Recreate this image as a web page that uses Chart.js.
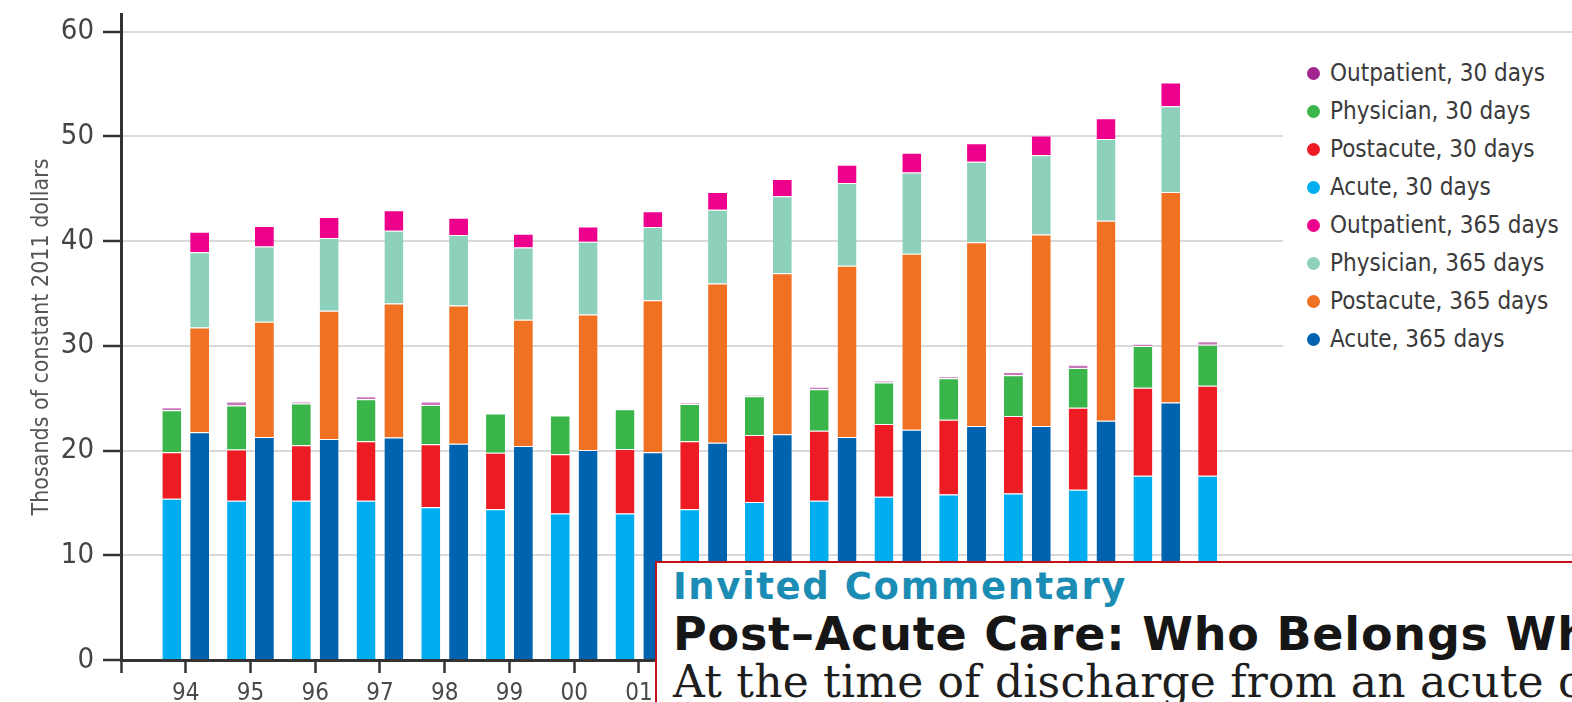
<!DOCTYPE html>
<html>
<head>
<meta charset="utf-8">
<script src="https://cdn.jsdelivr.net/npm/chart.js@4.4.1/dist/chart.umd.min.js"></script>
<style>
  html, body { margin: 0; padding: 0; background: #fff; overflow: hidden; }
  #wrap { position: relative; width: 1572px; height: 702px; overflow: hidden; }
  #chart { position: absolute; left: 0; top: 0; }
  #legend {
    position: absolute; left: 1283px; top: 46px; width: 289px; height: 312px;
    background: #fff; padding-top: 8px; box-sizing: border-box;
    font-family: "DejaVu Sans Condensed", "Liberation Sans Narrow", sans-serif;
    font-size: 24px; color: #3a3a3a;
  }
  .item { height: 38px; display: flex; align-items: center; white-space: nowrap; }
  .dot { width: 13px; height: 13px; border-radius: 50%; margin-left: 24px; margin-right: 10px; flex: none; }
  #note {
    position: absolute; left: 655px; top: 561px; width: 1000px; height: 200px;
    border: 2px solid #c1121c; background: #fff; overflow: hidden;
  }
  #note div { position: absolute; left: 16px; white-space: nowrap; line-height: 1; }
  .n1 { top: 5px; font: bold 37px "DejaVu Sans", sans-serif; color: #1b8db5; letter-spacing: 1.6px; }
  .n2 { top: 48px; font: bold 46px "DejaVu Sans", sans-serif; color: #161616; letter-spacing: 0.8px; }
  .n3 { top: 97px; font: 44px "DejaVu Serif", serif; color: #1e1e1e; letter-spacing: 0.2px; }
</style>
</head>
<body>
<div id="wrap">
  <canvas id="chart" width="1616" height="702"></canvas>
  <div id="legend"></div>
  <div id="note">
    <div class="n1">Invited Commentary</div>
    <div class="n2">Post–Acute Care: Who Belongs Wh</div>
    <div class="n3">At the time of discharge from an acute c</div>
  </div>
</div>
<script>
const years = ["94", "95", "96", "97", "98", "99", "00", "01", "02", "03", "04", "05", "06", "07", "08", "09", "10"];

// 30-day spending, thousands of 2011 dollars
const acute30 = [15.4, 15.2, 15.2, 15.2, 14.6, 14.4, 14.0, 14.0, 14.4, 15.1, 15.2, 15.6, 15.8, 15.9, 16.25, 17.6, 17.6];
const postacute30 = [4.45, 4.9, 5.3, 5.7, 6.0, 5.4, 5.65, 6.15, 6.5, 6.4, 6.7, 6.95, 7.15, 7.4, 7.85, 8.4, 8.6];
const physician30 = [4.0, 4.2, 4.0, 4.0, 3.75, 3.75, 3.7, 3.8, 3.55, 3.7, 3.95, 3.95, 3.95, 3.9, 3.8, 4.0, 3.9];
const outpatient30 = [0.3, 0.4, 0.2, 0.3, 0.35, 0, 0, 0, 0.1, 0.1, 0.25, 0.2, 0.2, 0.3, 0.3, 0.2, 0.35];

// 365-day spending (no 2010 value)
const acute365 = [21.75, 21.3, 21.1, 21.25, 20.65, 20.45, 20.05, 19.85, 20.75, 21.55, 21.3, 22.0, 22.35, 22.35, 22.85, 24.6, null];
const postacute365 = [10.0, 11.0, 12.25, 12.8, 13.2, 12.05, 12.95, 14.5, 15.2, 15.4, 16.35, 16.8, 17.55, 18.3, 19.1, 20.1, null];
const physician365 = [7.2, 7.2, 6.95, 6.95, 6.75, 6.9, 6.95, 7.0, 7.05, 7.35, 7.9, 7.75, 7.7, 7.55, 7.8, 8.2, null];
const outpatient365 = [1.95, 1.95, 2.0, 1.95, 1.65, 1.3, 1.45, 1.5, 1.7, 1.65, 1.75, 1.9, 1.75, 1.9, 2.0, 2.25, null];

const yTicks = [0, 10, 20, 30, 40, 50, 60];

const FONT = '"DejaVu Sans Condensed", "Liberation Sans Narrow", sans-serif';

// empty slot before 94 sits on the y axis, empty slots after 10 run off the page
const labels = ["", ...years, "", "", "", "", "", ""];
const pad = (arr) => [null, ...arr, null, null, null, null, null, null];

// thin 30-day outpatient slivers print paler than their legend dot
const series = [
  { label: "Acute, 30 days", data: acute30, stack: "30", color: "#00aeef" },
  { label: "Postacute, 30 days", data: postacute30, stack: "30", color: "#ed1c24" },
  { label: "Physician, 30 days", data: physician30, stack: "30", color: "#39b54a" },
  { label: "Outpatient, 30 days", data: outpatient30, stack: "30", color: "#c778bb", dot: "#a2258f" },
  { label: "Acute, 365 days", data: acute365, stack: "365", color: "#0063b0" },
  { label: "Postacute, 365 days", data: postacute365, stack: "365", color: "#f07122" },
  { label: "Physician, 365 days", data: physician365, stack: "365", color: "#8dd0bc" },
  { label: "Outpatient, 365 days", data: outpatient365, stack: "365", color: "#ec008c" },
];

const datasets = series.map((s) => ({
  label: s.label,
  data: pad(s.data),
  stack: s.stack,
  backgroundColor: s.color,
  borderColor: "rgba(255, 255, 255, 0.85)",
  borderWidth: { top: 1, left: 0, right: 0, bottom: 0 },
  borderSkipped: false,
  categoryPercentage: 0.86,
  barPercentage: 0.68,
}));

const chart = new Chart(document.getElementById("chart"), {
  type: "bar",
  data: { labels, datasets },
  options: {
    responsive: false,
    animation: false,
    layout: { padding: { top: 14, right: 0, bottom: 0, left: 0 } },
    scales: {
      x: {
        stacked: true,
        offset: false,
        grid: { offset: false, drawOnChartArea: false, drawTicks: true, tickLength: 13, tickColor: "#333", tickWidth: 2.5 },
        border: { color: "#333", width: 3 },
        ticks: { color: "#4a4a4a", font: { family: FONT, size: 24 }, padding: 6, maxRotation: 0, autoSkip: false },
        afterFit: (scale) => { scale.height = 42; },
      },
      y: {
        stacked: true,
        min: 0,
        max: 61.7,
        afterBuildTicks: (scale) => { scale.ticks = yTicks.map((v) => ({ value: v })); },
        ticks: { color: "#444", font: { family: FONT, size: 29 }, padding: 9 },
        grid: { color: "#d9d9d9", lineWidth: 2, tickLength: 18, tickColor: "#333", tickWidth: 2.5 },
        border: { color: "#333", width: 3 },
        title: {
          display: true,
          text: "Thosands of constant 2011 dollars",
          color: "#555",
          font: { family: FONT, size: 23 },
          padding: { top: 28, bottom: 0 },
        },
        afterFit: (scale) => {
          scale.width = 121;
          scale.paddingTop = 0;
          scale.paddingBottom = 0;
        },
      },
    },
    plugins: { legend: { display: false }, tooltip: { enabled: false } },
  },
});

// legend: 30-day group then 365-day group, each from top of stack down
function renderLegend() {
  const box = document.getElementById("legend");
  ["30", "365"].forEach((g) => {
    series
      .filter((s) => s.stack === g)
      .reverse()
      .forEach((s) => {
        const row = document.createElement("div");
        row.className = "item";
        const dot = document.createElement("span");
        dot.className = "dot";
        dot.style.background = s.dot || s.color;
        const txt = document.createElement("span");
        txt.textContent = s.label;
        row.appendChild(dot);
        row.appendChild(txt);
        box.appendChild(row);
      });
  });
}

renderLegend();
</script>
</body>
</html>
